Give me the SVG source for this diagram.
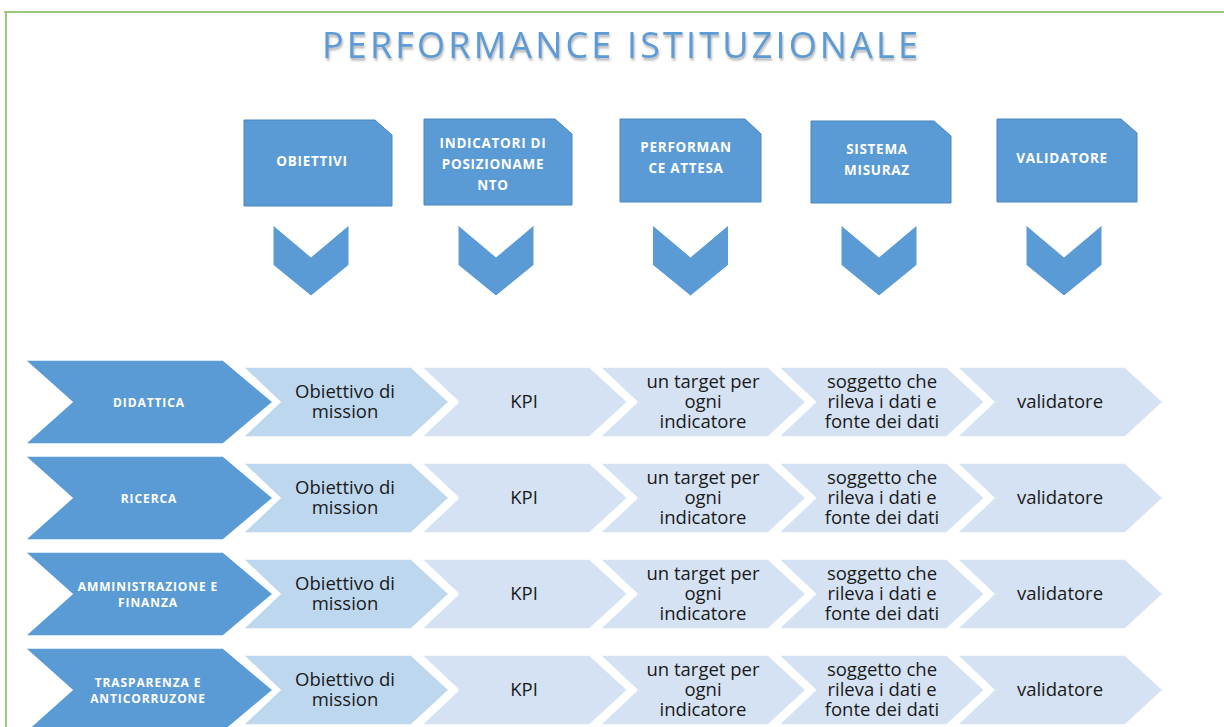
<svg xmlns="http://www.w3.org/2000/svg" width="1224" height="727" viewBox="0 0 1224 727">
<defs>
<style>
.box{fill:#5B9BD5;stroke:#4A86BF;stroke-width:1}
.down{fill:#5B9BD5;stroke:#ffffff;stroke-width:1}
.dark{fill:#5B9BD5;stroke:#ffffff;stroke-width:1.5}
.l1{fill:#BDD7EE;stroke:#ffffff;stroke-width:1.5}
.l2{fill:#D5E2F3;stroke:#ffffff;stroke-width:1.5}
.bt{font-family:"Open Sans","Liberation Sans",sans-serif;font-weight:bold;font-size:13.5px;fill:#ffffff;text-anchor:middle;letter-spacing:0.7px}
.rt{font-family:"Open Sans","Liberation Sans",sans-serif;font-weight:bold;font-size:12px;fill:#ffffff;text-anchor:middle;letter-spacing:0.9px}
.ct{font-family:"Open Sans","Liberation Sans",sans-serif;font-size:18.5px;fill:#1a1a1a;text-anchor:middle}
.title{font-family:"Open Sans","Liberation Sans",sans-serif;font-size:36px;fill:#5B9BD5;text-anchor:middle}
</style>
<filter id="sh" x="-5%" y="-30%" width="110%" height="160%">
<feDropShadow dx="1" dy="2.5" stdDeviation="1.2" flood-color="#7f7f7f" flood-opacity="0.6"/>
</filter>
<path id="lchev" d="M0,-35 H168 L206,0 L168,35 H0 L37,0 Z"/>
<path id="dchev" d="M0,-42 H198 L248,0 L198,42 H0 L47,0 Z"/>
<path id="vchev" d="M-38,0 L0,32 L38,0 V40 L0,71 L-38,40 Z"/>
</defs>
<rect width="1224" height="727" fill="#ffffff"/>
<g id="frame" fill="none" stroke="#9DC97E" stroke-width="2">
<line x1="4" y1="12" x2="1224" y2="12"/>
<line x1="6" y1="12" x2="6" y2="727"/>
</g>
<g id="title">
<text class="title" x="620" y="58" textLength="596" lengthAdjust="spacing" filter="url(#sh)">PERFORMANCE ISTITUZIONALE</text>
</g>
<g id="head-obiettivi">
<path class="box" d="M244,120 H375 L392,135 V206 H244 Z"/>
<text class="bt" x="312" y="166">OBIETTIVI</text>
</g>
<g id="head-indicatori">
<path class="box" d="M424,119 H555 L572,134 V205 H424 Z"/>
<text class="bt" x="493" y="148">INDICATORI DI</text>
<text class="bt" x="493" y="169">POSIZIONAME</text>
<text class="bt" x="493" y="190">NTO</text>
</g>
<g id="head-performance">
<path class="box" d="M620,119 H745 L761,134 V202 H620 Z"/>
<text class="bt" x="686" y="152">PERFORMAN</text>
<text class="bt" x="686" y="173">CE ATTESA</text>
</g>
<g id="head-sistema">
<path class="box" d="M811,121 H934 L951,136 V203 H811 Z"/>
<text class="bt" x="877" y="154">SISTEMA</text>
<text class="bt" x="877" y="175">MISURAZ</text>
</g>
<g id="head-validatore">
<path class="box" d="M997,119 H1121 L1137,133 V202 H997 Z"/>
<text class="bt" x="1062" y="163">VALIDATORE</text>
</g>
<g id="connectors">
<use href="#vchev" class="down" x="311" y="225"/>
<use href="#vchev" class="down" x="496" y="225"/>
<use href="#vchev" class="down" x="690.5" y="225"/>
<use href="#vchev" class="down" x="879" y="225"/>
<use href="#vchev" class="down" x="1064" y="225"/>
</g>
<g id="row-didattica" transform="translate(0,402)">
<use href="#lchev" class="l2" x="957"/>
<use href="#lchev" class="l2" x="778.5"/>
<use href="#lchev" class="l2" x="600"/>
<use href="#lchev" class="l2" x="421.5"/>
<use href="#lchev" class="l1" x="243"/>
<use href="#dchev" class="dark" x="25"/>
<text class="rt" x="149" y="4.5">DIDATTICA</text>
<text class="ct" x="345" y="-4">Obiettivo di</text>
<text class="ct" x="345" y="16">mission</text>
<text class="ct" x="524" y="6">KPI</text>
<text class="ct" x="703" y="-14">un target per</text>
<text class="ct" x="703" y="6">ogni</text>
<text class="ct" x="703" y="26">indicatore</text>
<text class="ct" x="882" y="-14">soggetto che</text>
<text class="ct" x="882" y="6">rileva i dati e</text>
<text class="ct" x="882" y="26">fonte dei dati</text>
<text class="ct" x="1060" y="6">validatore</text>
</g>
<g id="row-ricerca" transform="translate(0,498)">
<use href="#lchev" class="l2" x="957"/>
<use href="#lchev" class="l2" x="778.5"/>
<use href="#lchev" class="l2" x="600"/>
<use href="#lchev" class="l2" x="421.5"/>
<use href="#lchev" class="l1" x="243"/>
<use href="#dchev" class="dark" x="25"/>
<text class="rt" x="149" y="4.5">RICERCA</text>
<text class="ct" x="345" y="-4">Obiettivo di</text>
<text class="ct" x="345" y="16">mission</text>
<text class="ct" x="524" y="6">KPI</text>
<text class="ct" x="703" y="-14">un target per</text>
<text class="ct" x="703" y="6">ogni</text>
<text class="ct" x="703" y="26">indicatore</text>
<text class="ct" x="882" y="-14">soggetto che</text>
<text class="ct" x="882" y="6">rileva i dati e</text>
<text class="ct" x="882" y="26">fonte dei dati</text>
<text class="ct" x="1060" y="6">validatore</text>
</g>
<g id="row-amministrazione" transform="translate(0,594)">
<use href="#lchev" class="l2" x="957"/>
<use href="#lchev" class="l2" x="778.5"/>
<use href="#lchev" class="l2" x="600"/>
<use href="#lchev" class="l2" x="421.5"/>
<use href="#lchev" class="l1" x="243"/>
<use href="#dchev" class="dark" x="25"/>
<text class="rt" x="148" y="-3.5">AMMINISTRAZIONE E</text>
<text class="rt" x="148" y="12.5">FINANZA</text>
<text class="ct" x="345" y="-4">Obiettivo di</text>
<text class="ct" x="345" y="16">mission</text>
<text class="ct" x="524" y="6">KPI</text>
<text class="ct" x="703" y="-14">un target per</text>
<text class="ct" x="703" y="6">ogni</text>
<text class="ct" x="703" y="26">indicatore</text>
<text class="ct" x="882" y="-14">soggetto che</text>
<text class="ct" x="882" y="6">rileva i dati e</text>
<text class="ct" x="882" y="26">fonte dei dati</text>
<text class="ct" x="1060" y="6">validatore</text>
</g>
<g id="row-trasparenza" transform="translate(0,690)">
<use href="#lchev" class="l2" x="957"/>
<use href="#lchev" class="l2" x="778.5"/>
<use href="#lchev" class="l2" x="600"/>
<use href="#lchev" class="l2" x="421.5"/>
<use href="#lchev" class="l1" x="243"/>
<use href="#dchev" class="dark" x="25"/>
<text class="rt" x="148" y="-3.5">TRASPARENZA E</text>
<text class="rt" x="148" y="12.5">ANTICORRUZONE</text>
<text class="ct" x="345" y="-4">Obiettivo di</text>
<text class="ct" x="345" y="16">mission</text>
<text class="ct" x="524" y="6">KPI</text>
<text class="ct" x="703" y="-14">un target per</text>
<text class="ct" x="703" y="6">ogni</text>
<text class="ct" x="703" y="26">indicatore</text>
<text class="ct" x="882" y="-14">soggetto che</text>
<text class="ct" x="882" y="6">rileva i dati e</text>
<text class="ct" x="882" y="26">fonte dei dati</text>
<text class="ct" x="1060" y="6">validatore</text>
</g>
</svg>
